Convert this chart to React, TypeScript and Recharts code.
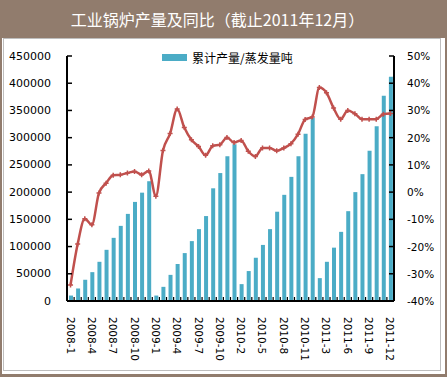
import React from 'react';
import { ComposedChart, Bar, Line, XAxis, YAxis } from 'recharts';

const categories = [
  '2008-1', '2008-2', '2008-3', '2008-4', '2008-5', '2008-6', '2008-7', '2008-8', '2008-9', '2008-10', '2008-11', '2008-12',
  '2009-1', '2009-2', '2009-3', '2009-4', '2009-5', '2009-6', '2009-7', '2009-8', '2009-9', '2009-10', '2009-11', '2009-12',
  '2010-2', '2010-3', '2010-4', '2010-5', '2010-6', '2010-7', '2010-8', '2010-9', '2010-10', '2010-11', '2010-12',
  '2011-2', '2011-3', '2011-4', '2011-5', '2011-6', '2011-7', '2011-8', '2011-9', '2011-10', '2011-11', '2011-12',
];

// 累计产量/蒸发量吨
const cumulativeOutput = [
  10000, 23000, 39000, 53000, 72000, 94000, 116000, 138000, 160000, 182000, 199000, 220000,
  10000, 26000, 48000, 68000, 88000, 110000, 132000, 156000, 207000, 235000, 266000, 288000,
  31000, 55000, 79500, 103000, 132000, 164000, 195000, 228000, 266000, 307000, 336000,
  42000, 72000, 98000, 127000, 165000, 200000, 233000, 276000, 321000, 377000, 412000,
];

// 同比 (%)
const yoyGrowth = [
  -34.1, -19.1, -9.8, -12.0, -0.3, 3.3, 6.2, 6.4, 7.0, 7.6, 6.4, 7.8,
  -1.5, 15.3, 21.5, 30.5, 23.7, 19.2, 16.8, 13.5, 17.0, 17.4, 20.1, 18.2,
  19.0, 15.0, 13.1, 16.2, 16.2, 15.2, 16.2, 17.8, 21.3, 26.7, 27.6,
  38.4, 36.5, 30.9, 26.8, 30.0, 28.8, 26.8, 26.8, 26.8, 28.6, 28.9,
];

const leftTicks = [0, 50000, 100000, 150000, 200000, 250000, 300000, 350000, 400000, 450000];
const rightTicks = [-40, -30, -20, -10, 0, 10, 20, 30, 40, 50];

const title = '工业锅炉产量及同比（截止2011年12月）';
const barName = '累计产量/蒸发量吨';

const data = categories.map((month, i) => ({
  month,
  output: cumulativeOutput[i],
  yoy: yoyGrowth[i],
}));

const AXIS_FONT = '"DejaVu Sans", Verdana, sans-serif';
const CJK_FONT = '"Noto Sans CJK SC", "Noto Sans", sans-serif';
const BAR_COLOR = '#4BACC6';
const LINE_COLOR = '#C0504D';

const XTick = (props: any) => {
  const { x, y, payload, index } = props;
  const half = payload && payload.offset ? payload.offset : 3.55;
  const idx = typeof index === 'number' ? index : payload.index;
  return (
    <g>
      <line x1={x + half} x2={x + half} y1={y} y2={y - 4} stroke="#000" strokeWidth={1.2} />
      {idx === 0 && <line x1={x - half} x2={x - half} y1={y} y2={y - 4} stroke="#000" strokeWidth={1.2} />}
      {idx % 3 === 0 && (
        <text
          transform={`translate(${x},${y + 16}) rotate(90)`}
          textAnchor="start"
          dominantBaseline="central"
          fontFamily={AXIS_FONT}
          fontSize={10.5}
          fill="#000"
        >
          {payload.value}
        </text>
      )}
    </g>
  );
};

const LeftTick = (props: any) => {
  const { x, y, payload } = props;
  return (
    <g>
      <line x1={x} x2={x + 5} y1={y} y2={y} stroke="#000" strokeWidth={1.5} />
      <text x={x - 16} y={y} textAnchor="end" dominantBaseline="central" fontFamily={AXIS_FONT} fontSize={11} fill="#000">
        {payload.value}
      </text>
    </g>
  );
};

const RightTick = (props: any) => {
  const { x, y, payload } = props;
  return (
    <g>
      <line x1={x} x2={x - 5} y1={y} y2={y} stroke="#000" strokeWidth={1.5} />
      <text x={x + 13} y={y} textAnchor="start" dominantBaseline="central" fontFamily={AXIS_FONT} fontSize={10.5} fill="#000">
        {`${payload.value}%`}
      </text>
    </g>
  );
};

const PlusDot = (props: any) => {
  const { cx, cy } = props;
  if (cx == null || cy == null) return null;
  return (
    <path
      d={`M${cx - 2.5},${cy}h5M${cx},${cy - 2.5}v5`}
      stroke={LINE_COLOR}
      strokeWidth={1.5}
      fill="none"
    />
  );
};

export default function App() {
  return (
    <div style={{ position: 'absolute', left: 0, top: 0, width: 447, height: 377, background: '#917C6D' }}>
      <div
        style={{
          position: 'absolute',
          left: 0,
          top: 0,
          width: 447,
          height: 38,
          color: '#fff',
          fontFamily: CJK_FONT,
          fontSize: 16,
          lineHeight: '38px',
          textAlign: 'center',
          paddingLeft: 0,
        }}
      >
        <span style={{ position: 'relative', left: -6 }}>{title}</span>
      </div>
      <div
        style={{
          position: 'absolute',
          left: 2,
          top: 38,
          width: 443,
          height: 336,
          background: '#fff',
        }}
      />
      <div
        style={{
          position: 'absolute',
          left: 3,
          top: 38,
          width: 438,
          height: 333,
          border: '1.5px solid #BEBEBE',
          boxSizing: 'border-box',
          background: '#fff',
        }}
      />
      <div
        style={{
          position: 'absolute',
          left: 162,
          top: 50,
          height: 14,
          display: 'flex',
          alignItems: 'center',
          fontFamily: CJK_FONT,
          fontSize: 12,
          color: '#000',
          whiteSpace: 'nowrap',
        }}
      >
        <span style={{ display: 'inline-block', width: 25, height: 7, background: BAR_COLOR, marginRight: 5 }} />
        <span>{barName}</span>
      </div>
      <div style={{ position: 'absolute', left: 0, top: 0 }}>
        <ComposedChart
          width={447}
          height={377}
          data={data}
          margin={{ top: 56, right: 0, bottom: 0, left: 0 }}
          barCategoryGap="45%"
        >
          <XAxis
            dataKey="month"
            height={76}
            interval={0}
            tickLine={false}
            tickSize={0}
            tickMargin={0}
            axisLine={{ stroke: '#000', strokeWidth: 2 }}
            tick={<XTick />}
          />
          <YAxis
            yAxisId="left"
            width={67}
            domain={[0, 450000]}
            ticks={leftTicks}
            interval={0}
            tickLine={false}
            tickSize={0}
            tickMargin={0}
            axisLine={{ stroke: '#000', strokeWidth: 2 }}
            tick={<LeftTick />}
          />
          <YAxis
            yAxisId="right"
            orientation="right"
            width={53}
            domain={[-40, 50]}
            ticks={rightTicks}
            interval={0}
            tickLine={false}
            tickSize={0}
            tickMargin={0}
            axisLine={{ stroke: '#000', strokeWidth: 2 }}
            tick={<RightTick />}
          />
          <Bar yAxisId="left" dataKey="output" fill={BAR_COLOR} barSize={4} isAnimationActive={false} />
          <Line
            yAxisId="right"
            dataKey="yoy"
            type="monotone"
            stroke={LINE_COLOR}
            strokeWidth={2.5}
            dot={<PlusDot />}
            activeDot={false}
            isAnimationActive={false}
          />
        </ComposedChart>
      </div>
    </div>
  );
}
